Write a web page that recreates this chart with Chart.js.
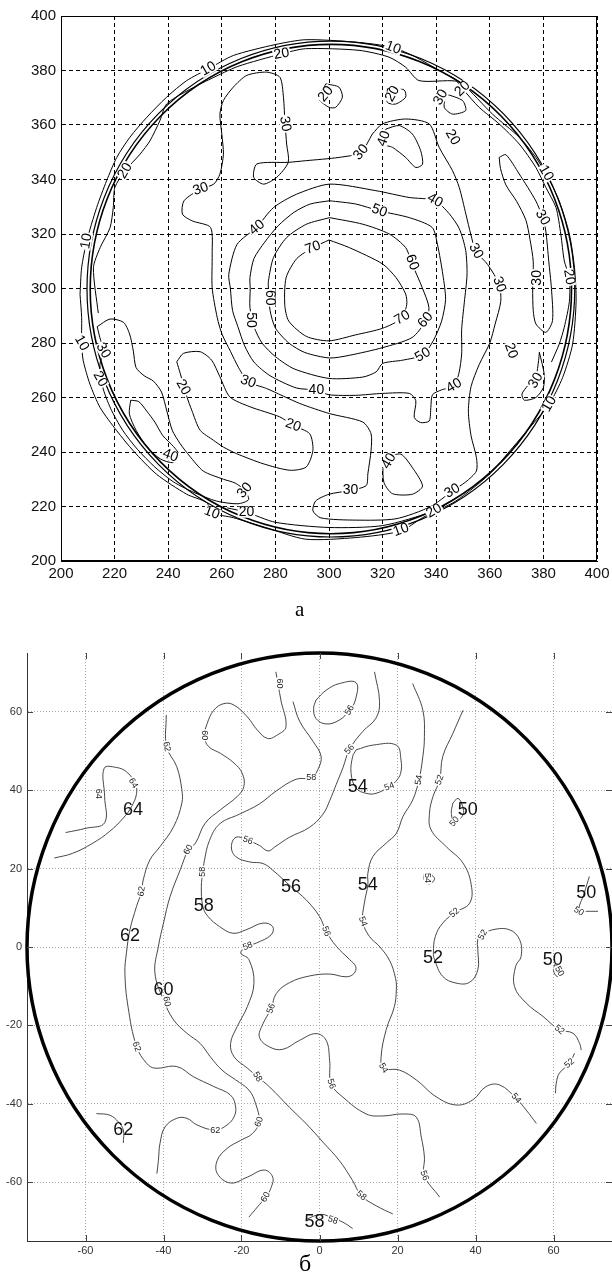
<!DOCTYPE html>
<html><head><meta charset="utf-8">
<script src="https://cdn.jsdelivr.net/npm/chart.js@4.4.1/dist/chart.umd.min.js"></script>
<style>
body{margin:0;background:#fff;width:612px;height:1278px;position:relative;overflow:hidden}
canvas{position:absolute;left:0}
#c1{top:0}
#c2{top:620px}
.cap{position:absolute;font-family:"Liberation Serif","DejaVu Serif",serif;color:#000}
</style></head><body>
<canvas id="c1" width="612" height="600"></canvas>
<canvas id="c2" width="612" height="640"></canvas>
<div class="cap" style="left:295px;top:597px;font-size:21px">а</div>
<div class="cap" style="left:299px;top:1250px;font-size:24px">б</div>
<script>
// ---------- panel а ----------
const topTicks = [200, 220, 240, 260, 280, 300, 320, 340, 360, 380, 400];
const topCircle = [300.7, 299.8, 89.8, 91.0]; // cx, cy, inner r, outer r

const top70 = [[300,317.8],[307.6,315],[320,309],[325,304],[328.6,298],[329,294],[327,289],[320,285.4],[310,283],[300,280.8],[291.6,282.4],[285,288],[283.5,294],[284,304],[288,311],[294,315],[300,317.8]];
const top60 = [[300.2,326],[312.6,323.6],[322.5,320],[328.6,315],[331,309],[334.8,300.3],[337.3,293],[336,288],[331,282],[320,278.3],[307.7,275.5],[300.2,274.5],[291,276.5],[285,280],[280,285.5],[278,292],[277.4,300],[277.4,302.8],[279.3,311.4],[284.2,318.7],[291.6,323.6],[300.2,326]];
const top50 = [[300.2,332.2],[310,331],[318.8,328.5],[330,326],[338.5,322.4],[340.5,316],[342.5,305],[343.5,296],[342,288],[339,281],[335,275.6],[327.5,273.7],[320,272.5],[317.6,269.4],[312.6,267.5],[300,267],[287,270.5],[280,275],[275,280],[272,286],[270.5,293],[270.6,300],[270.5,304],[272,311],[276,317],[281,323],[287,328],[293,331],[300.2,332.2]];
const top40 = [[273.1,322.4],[279.3,329.7],[287.9,334.6],[300.2,338.3],[317.5,335.9],[329.9,333.4],[339.5,332.3],[344.8,327.5],[348.6,322],[351,314],[351.5,305],[350.5,295],[349.5,285],[349.5,276],[348.5,269],[346.7,264.3],[342,262.8],[338.6,261],[338,256.3],[337.4,251.4],[334.2,250.8],[331.8,252.7],[332.4,258.8],[330,261.5],[320,261.5],[310,260.8],[300,261],[295.3,262.7],[287.8,263.5],[278,268],[272,273],[268.5,279],[266,286],[264,292],[263.2,300],[262.6,305.2],[265.7,316.2],[273.1,322.4]];
const top30 = [[316.2,356.7],[319.9,360.4],[328.6,362.2],[337.4,360.4],[341.1,351.8],[346.1,343.2],[348.6,337.1],[351.1,327.2],[352.9,319.9],[354.8,313.7],[359.2,308.8],[363.5,301.5],[364.1,295.3],[362,287],[360,280],[356,272],[353,264],[352,255],[353,246],[355,238],[355,233],[351,229],[346,225.7],[338,220],[325,215.5],[310,215],[297,215.8],[294,218.4],[295,222],[300,224.5],[308,225.9],[313.9,227.7],[314.5,232],[315.7,240.6],[315.7,246.7],[312.6,251],[300.2,254.1],[289.1,257.8],[276.7,263.3],[269.8,265.8],[266.3,270.9],[263.2,277],[260.1,283.2],[258.3,289.3],[256.4,300.3],[256.4,312.6],[255.8,322.4],[249,324.8],[245.3,327.3],[245.9,332.2],[252.1,336.5],[257,338.3],[259.3,342],[260.6,349.3],[260,356.7],[259.3,364],[260.6,369],[264.3,373.9],[269.3,378.2],[276.7,379.4],[281.7,377.5],[283,370.2],[283.6,360.4],[284.2,353],[284.8,346.3],[280.5,340.8],[275.6,338.3],[271.9,340.8],[273.1,345.7],[284.8,346.3],[291.3,346.9],[303.7,348.1],[311.8,349.9],[316.2,356.7]];
const top40b = [[321.2,358.5],[326.2,359.8],[331.1,356.7],[334.2,350.6],[334.9,345.6],[332.4,344.4],[328.6,348.1],[323.7,351.8],[320.5,353],[321.2,358.5]];
const top40c = [[321.2,238],[326.8,239.2],[331.1,234.3],[334.9,227.5],[331.1,224.5],[323.7,224.7],[320.5,228.8],[320.2,235.5],[321.2,238]];
const top40d = [[226,259],[229,258.5],[232,255],[235,251],[238,246],[242,242],[244,239],[241.9,236.1],[237,237.5],[232,242],[228,248],[225.5,254],[226,259]];
const top30L = [[213.5,286],[218.3,288.8],[223.3,287.6],[225.6,283.3],[227,277],[228,271],[231,268],[234.5,266],[237.5,262],[239.5,255],[241.5,248],[244.5,243],[248,238.5],[253.1,233],[260.6,230],[265,228.6],[268.6,225.9],[270,222.5],[266,221],[258,222],[250,225],[242,229],[235,234.5],[228.5,241],[223,248],[218.5,256],[215.5,264],[214.5,272],[215.8,277.2],[214.5,282],[213.5,286]];
const top30R = [[363.5,348.1],[366,349.1],[371,342],[377.2,332.1],[379.7,326],[380.9,321.1],[382,310],[383,300],[383.4,288.2],[380.9,283.9],[377.2,287],[376.2,292],[376,300],[376.2,310],[375,318],[373.5,325],[370,332],[366,338],[364,344],[363.5,348.1]];
const top30s = [[378.5,276.6],[380.3,268.6],[380,263.7],[377.2,260],[372.9,259],[372,261.3],[374.1,264.3],[377.2,268],[378.2,273.5],[378.5,276.6]];
const top30t = [[343.6,371.4],[349.8,369],[351,365.3],[346.1,364],[343,366.5],[343.6,371.4]];
const top20a = [[298.8,375.1],[303.7,373.9],[305,370.2],[302.5,366.5],[300,366.5],[296.3,369.6],[298.8,375.1]];
const top20b = [[321.8,373.3],[328,372.9],[328.6,370.2],[324.9,367.7],[321.8,368.3],[321.8,373.3]];
const top20c = [[243.2,273.1],[245.7,276.2],[251.9,276.8],[256.2,273.7],[259.3,267.6],[263,260.2],[270.5,256.6],[281.6,252.9],[286.6,249.8],[292.8,246.7],[294,240.6],[291.5,234.5],[285.4,233.3],[275.4,235.7],[265.5,239.4],[260.6,241.8],[256.9,244.3],[251.9,248],[248.8,255.3],[247,260.2],[244.5,268.8],[243.2,273.1]];
const top20rim = [[213.9,291],[212.1,307.6],[214.6,315],[218.3,322.3],[219.5,329.7],[220.1,337.1],[223.9,343.2],[229.5,349.3],[233.2,354.2],[236.9,361.6],[239.4,367.7],[247,372.5],[256,377],[266,381.5],[282.3,386.1],[291.3,388],[311.2,387.4],[322.4,384.9],[328.6,381.2],[333.6,376.3],[347.3,376.1],[349.8,373.3],[356,366.5],[363.5,360.4],[371,353],[377.2,344.4],[380.9,337.1],[384.7,329.7],[386.5,319.9],[387.8,310.1],[389.7,303.9],[389.7,295.3],[387.8,285.8],[385.9,279.6],[383,273]];
const top20bot = [[262,219.5],[269.2,217.9],[280,214.2],[300,212.3],[320,213],[339.2,218.4],[348,223.5]];
const top10 = [[207.1,297.8],[207.7,307.6],[209.6,317.4],[213.3,329.7],[217,339.5],[220.8,348.1],[225.7,355.5],[232,362.8],[239.4,370.2],[246.9,376.3],[255,380.6],[264.3,385.5],[279.9,389.5],[291.3,391.3],[310,390.4],[323.7,388.5],[332.4,384.9],[341.1,380],[349.8,375.1],[361,364],[371,355.5],[377.2,348.1],[381,342],[385.9,332.1],[389.7,319.9],[391.6,307.6],[392.2,295.3],[390.9,279.6],[387.2,267.4],[382.2,257.6],[376,250.2],[368.5,241.6],[359.8,231.8],[347.3,222],[334.9,215.9],[326.8,211],[310,208.6],[291.3,208],[276.7,212.2],[264.3,215.9],[256.2,217.7],[254.4,221.4],[246.9,224.5],[235.7,231.8],[227,240.4],[220.8,247.8],[214.6,256.3],[210.8,264.9],[208.3,273.5],[207.7,279.6],[207.7,289.4],[207.1,297.8]];

// [text, x, y, angle]
const topLabels = [
  ["70",294,315,20],["70",327.4,289.3,30],
  ["60",278,296.6,-90],["60",331,309.6,-70],["60",336,288.4,50],
  ["50",318.8,328.5,-20],["50",335,275.6,30],["50",271,288.4,-90],
  ["40",273.1,322.4,40],["40",339.5,332.3,-30],["40",295.3,262.7,0],["40",346.7,264.3,30],["40",320.5,355,70],["40",240.8,238.7,-20],["40",322.4,236.7,60],
  ["30",283.6,360.4,-80],["30",252.1,336.5,20],["30",312,350,50],["30",341.7,370.2,60],["30",354.8,313.7,-60],["30",363.5,301.5,-70],["30",379.7,326,-60],["30",377.8,303.9,90],["30",377.2,266.2,60],["30",346,225.7,30],["30",308,225.9,0],["30",269.8,265.8,-20],["30",268.6,225.9,50],["30",215.8,277.2,-60],
  ["20",282.3,386.1,10],["20",223.9,343.2,60],["20",298.8,371.4,50],["20",323.7,371.4,60],["20",346.1,355.5,-60],["20",349.8,373.3,45],["20",389.6,304.2,-80],["20",367.9,277.2,-70],["20",245.6,263.7,-60],["20",286.6,249.8,-20],["20",269.2,217.9,0],["20",339.2,218.4,30],["20",214.6,266.8,-60],
  ["10",255,380.6,30],["10",209.5,317.4,80],["10",207.7,280,-60],["10",256.3,217.7,-20],["10",323.9,388.3,-20],["10",381,342.4,-60],["10",382.2,257.6,60],["10",326.9,211.4,20]
];

// ---------- panel б ----------
const botTicks = [-60, -40, -20, 0, 20, 40, 60];
const botCircle = [0, 0, 75];

const b64 = [[-65.1,29.2],[-59.8,30.3],[-55.1,31.7],[-55.1,38.4],[-55.2,45.6],[-52.1,45.8],[-49.5,44.7],[-47.3,41.8],[-46.9,39.2],[-48.2,35.8],[-50.3,32.9],[-53.8,29.5],[-58.1,26.5],[-63.3,23.9],[-68,22.7]];
const b62 = [[-39.3,59.2],[-39.2,51.1],[-36.6,46],[-35.3,40.1],[-35.3,36.7],[-37.4,30.7],[-40.9,25.6],[-43.5,22.2],[-45.2,17.1],[-45.6,14.2],[-46.9,10.4],[-48.6,4.4],[-49.5,-1.5],[-49.9,-6.6],[-49.1,-15.2],[-46.9,-25.4],[-44.3,-29.7],[-42.2,-30.9],[-36.6,-30.5],[-32.3,-33.1],[-27.1,-35.6],[-22.8,-37.8],[-21.5,-40.8],[-21.9,-43.3],[-23.7,-45.4],[-26.7,-46.7],[-31.4,-45.4],[-34,-43.7],[-36.6,-43.7],[-39.6,-45.9],[-40.9,-50.1],[-41.3,-54.4],[-41.7,-57.8]];
const b62b = [[-57.2,-42.5],[-53.8,-42.9],[-51.6,-44.6],[-50.3,-46.7],[-50.3,-50]];
const b60 = [[-11.2,70.2],[-9.9,63],[-8.6,56.2],[-10.8,54.1],[-13.3,53.2],[-15.9,55.3],[-18.5,58.7],[-21.9,61.7],[-24.5,62.1],[-27.1,60.4],[-28.8,57],[-29.5,53.6],[-28.4,51.1],[-25.4,49.4],[-21.9,46.9],[-19.8,44.3],[-19.4,40.9],[-21.1,38.4],[-25.4,35],[-29.3,31.6],[-31.8,26.5],[-33.6,24.8],[-35.7,19.7],[-38.3,12.9],[-40,6.1],[-41.3,0.2],[-42.2,-6.6],[-40,-13.5],[-37.4,-18.6],[-34,-22],[-30.6,-24.6],[-28,-28],[-25,-31.4],[-21.5,-33.9],[-18.1,-36.5],[-16.4,-39.9],[-15.5,-44.6],[-17.2,-47.6],[-20.2,-49.3],[-23.7,-51.4],[-26.2,-54.4],[-26.2,-57.8],[-22.8,-60.2],[-18.5,-58.7],[-14.2,-56.9],[-12,-58.7],[-12.5,-61.6],[-13.8,-63.8],[-15.9,-66.3],[-18.1,-68.9]];
const b58 = [[-6.8,62.6],[-5.1,57.6],[-1.7,52.5],[0.4,48.7],[-0.4,45.3],[-2.1,43.2],[-6,42.8],[-11.1,39.8],[-15.4,36.5],[-20.5,33.9],[-25.6,31.4],[-28.2,27.2],[-29.5,22.1],[-29.9,19.2],[-30.3,15.4],[-29.9,10.3],[-28.6,7.8],[-25.6,5.2],[-22.2,3.5],[-18.8,4.4],[-14.5,6.1],[-12,5.2],[-12.4,3.1],[-16.2,1],[-18.4,0.2],[-20.2,-1.5],[-18.1,-3.2],[-16.8,-9.2],[-18.5,-15.2],[-21.1,-20.3],[-22.8,-24.6],[-21.9,-28],[-18.5,-30.9],[-15.9,-33.1],[-12.8,-35.7],[-7.7,-40.9],[-3.4,-45.1],[0.9,-49.8],[5.1,-54.5],[8.5,-59.6],[10.7,-63.4],[14.5,-66],[18.8,-68.1]];
const b58b = [[-3.5,-69.5],[0.4,-68.2],[3.4,-69.2],[6,-70.2],[8.5,-71.8]];
const b56a = [[-0.9,63],[1.7,65.5],[5.1,67.2],[9.4,67.4],[9.2,63],[7.7,60.4],[5.1,57.9],[1.7,56.9],[-0.9,58.3],[-1.5,60.9],[-0.9,63]];
const b56 = [[14.1,70.2],[15.4,62.6],[14.5,58.4],[11.1,55],[7.7,50.4],[6,45.7],[4.3,41.5],[2.6,37.3],[0.9,33.9],[-2.6,30.5],[-7.7,28],[-11.5,25.5],[-13.2,24.5],[-15.4,25.9],[-18.4,27.2],[-21.4,28],[-22.6,25.5],[-21.4,23],[-17.9,21.7],[-14.5,21.3],[-12,19.6],[-7.3,15.4],[-3.4,12],[0,7.8],[1.7,4],[4.3,0.2],[7.7,-3.2],[9.3,-5],[8.8,-6.8],[6.8,-7.6],[2.6,-6.9],[-2.6,-7.4],[-7.7,-9.1],[-11.1,-11.9],[-12.4,-15.7],[-14.5,-19.6],[-15.4,-23],[-12.8,-25.5],[-9.4,-26.1],[-5.1,-23.8],[-0.9,-22.1],[1.7,-23.8],[2.6,-28.9],[3,-34.9],[6,-38.3],[12,-42.6],[16.2,-43.1],[21.4,-42.6],[24.8,-43.4],[26.1,-48.5],[26.9,-53.6],[26.9,-58.3],[30.8,-63.8]];
const b54a = [[9.4,50.3],[13.7,51.5],[19.7,51.5],[20.9,47.7],[20.8,44.3],[19.5,42.2],[17.9,40.9],[14.5,39.2],[12,39.2],[9.4,40.5],[8.1,44.3],[8.5,48.6],[9.4,50.3]];
const b54 = [[23.9,67.2],[26.5,60.4],[26.9,53.7],[26.5,48.6],[25.5,42.6],[23.9,37.5],[21.4,33.3],[19.7,29],[17.1,26.5],[13.7,23.1],[12.4,18.8],[12.4,15.9],[11.5,11.2],[11.1,6.5],[12.8,2.7],[15.5,0],[18,-3.5],[19.5,-8],[19.7,-10.9],[19.2,-15.2],[17.1,-21.1],[15.8,-28],[16.4,-30.9],[20.5,-31.4],[24.8,-33.9],[29.9,-38.2],[35,-40.3],[39.3,-39],[42.7,-35.6],[46.2,-35.2],[50.4,-38.6],[53,-41.6],[55.6,-45]];
const b54s = [[26.9,18.8],[28.9,18.2],[29.5,17.3],[28.2,16.1],[26.9,17],[26.9,18.8]];
const b52 = [[36.8,60.4],[34.2,54.5],[31.6,48.6],[30.8,42.6],[29.1,38.4],[28.2,34.1],[28.6,29.9],[32.5,25.6],[36.8,21.4],[38.9,15.9],[38.5,11.2],[34.6,8.7],[31.6,6.1],[29.7,2.7],[29.2,-1.5],[29.5,-3.2],[31.6,-7.5],[35,-9.2],[38.5,-9],[40.6,-5.8],[40.6,-0.7],[40.6,1.9],[41.9,3.1],[44.4,4.4],[48.7,4.4],[51.3,1.9],[51.7,-2.4],[50.3,-4.9],[50,-10.1],[53,-14.3],[57.3,-17.7],[61.5,-21.1],[65,-22],[66.7,-24.6],[67.1,-26.3]];
const b52b = [[65.4,-27.1],[64.1,-29.7],[61.5,-32.2],[60.7,-34.8],[60.5,-37.3]];
const b50a = [[34.2,36.7],[35.5,37.9],[36.6,36.2],[36.8,33.7],[34.6,32],[33.8,34.1],[34.2,36.7]];
const b50b = [[69.2,18],[67.9,13.8],[66.5,9.1],[68.8,9.1],[71.4,9.1]];
const b50c = [[60.3,-4.5],[62,-5.4],[62.4,-7.1],[60.9,-7.5],[60,-6],[60.3,-4.5]];

const botSmall = [
  ["64",-56.6,39.1,-90],["64",-47.8,41.8,-60],["62",-39.2,51.1,-80],["62",-45.6,14.2,80],["60",-29.5,54,-90],["60",-10.3,67.2,-90],
  ["60",-33.6,24.8,60],["60",-39.2,-13.9,-80],["62",-46.9,-25.4,-70],["62",-26.7,-46.7,0],["60",-15.5,-44.6,70],["60",-13.8,-63.8,60],
  ["58",-29.9,19.2,90],["58",-2.1,43.2,0],["58",-18.4,0.2,20],["58",-15.9,-33.1,-60],["58",10.7,-63.4,-40],["58",3.4,-69.7,-20],
  ["56",7.7,60.4,60],["56",7.7,50.4,50],["56",-18.4,27.2,-20],["56",1.7,4,-70],["56",-12.4,-15.7,70],["56",3,-34.9,-70],["56",26.9,-58.3,-70],
  ["54",17.9,40.9,20],["54",25.5,42.6,80],["54",11.1,6.5,-70],["54",16.4,-30.9,-60],["54",50.4,-38.6,-50],["54",27.8,17.6,-90],
  ["52",30.8,42.6,70],["52",34.6,8.7,40],["52",41.9,3.1,60],["52",61.5,-21.1,-40],["52",64.1,-29.7,40],
  ["50",34.6,32,50],["50",66.5,9.1,-30],["50",61.5,-6.2,-60]
];
const botBig = [
  ["64",-47.8,35],["62",-48.6,2.7],["60",-40,-10.9],["58",-29.7,10.4],["56",-7.3,15.4],["54",9.8,40.9],["54",12.4,15.9],
  ["50",38,35],["50",68.4,13.8],["52",29.1,-2.8],["50",59.8,-3.2],["62",-50.3,-46.7],["58",-1.3,-70.2]
];

// ---------- helpers ----------
function line(pts, w, c, t) {
  return { data: pts.map(([x, y]) => ({ x, y })), showLine: true, pointRadius: 0, borderWidth: w, borderColor: c, tension: t, fill: false };
}

const labelPlugin = {
  id: "clabels",
  afterDatasetsDraw(chart, args, opts) {
    const { ctx, scales: { x, y } } = chart;
    opts.sets.forEach(set => {
      ctx.save();
      ctx.font = set.font;
      ctx.textAlign = "center";
      ctx.textBaseline = "middle";
      set.items.forEach(([t, vx, vy, rot]) => {
        const px = x.getPixelForValue(vx), py = y.getPixelForValue(vy);
        ctx.save();
        ctx.translate(px, py);
        ctx.rotate(-(rot || 0) * Math.PI / 180);
        if (set.bg) {
          const w = ctx.measureText(t).width;
          ctx.fillStyle = "#fff";
          ctx.fillRect(-w / 2 - 1, -set.h / 2, w + 2, set.h);
        }
        ctx.fillStyle = set.color;
        ctx.fillText(t, 0, 0);
        ctx.restore();
      });
      ctx.restore();
    });
  }
};

const circlePlugin = {
  id: "circles",
  afterDatasetsDraw(chart, args, opts) {
    const { ctx, scales: { x, y } } = chart;
    ctx.save();
    opts.rings.forEach(r => {
      const cx = x.getPixelForValue(r.cx), cy = y.getPixelForValue(r.cy);
      const rx = x.getPixelForValue(r.cx + r.r) - cx, ry = cy - y.getPixelForValue(r.cy + r.r);
      ctx.beginPath();
      ctx.ellipse(cx, cy, rx, ry, 0, 0, Math.PI * 2);
      ctx.lineWidth = r.w;
      ctx.strokeStyle = r.c;
      ctx.stroke();
    });
    ctx.restore();
  }
};

const axisPlugin = {
  id: "axistext",
  afterDraw(chart, args, o) {
    const { ctx, chartArea: a, scales: { x, y } } = chart;
    ctx.save();
    if (o.box) { ctx.strokeStyle = "#000"; ctx.lineWidth = 1; ctx.strokeRect(a.left + 0.5, a.top + 0.5, a.right - a.left - 1, a.bottom - a.top - 1); }
    if (o.tick) {
      ctx.strokeStyle = o.tickColor; ctx.lineWidth = 1;
      ctx.beginPath();
      x.ticks.forEach(t => {
        const px = Math.round(x.getPixelForValue(t.value)) + 0.5;
        ctx.moveTo(px, a.bottom); ctx.lineTo(px, a.bottom - o.tick);
        ctx.moveTo(px, a.top); ctx.lineTo(px, a.top + o.tick);
      });
      y.ticks.forEach(t => {
        const py = Math.round(y.getPixelForValue(t.value)) + 0.5;
        ctx.moveTo(a.left, py); ctx.lineTo(a.left + o.tick, py);
        ctx.moveTo(a.right, py); ctx.lineTo(a.right - o.tick, py);
      });
      ctx.stroke();
    }
    ctx.fillStyle = o.color;
    ctx.font = o.font;
    ctx.textBaseline = "middle";
    ctx.textAlign = "center";
    x.ticks.forEach(t => ctx.fillText(String(t.value), x.getPixelForValue(t.value), a.bottom + o.xOff));
    ctx.textAlign = "right";
    y.ticks.forEach(t => ctx.fillText(String(t.value), a.left - o.yOff, y.getPixelForValue(t.value)));
    ctx.restore();
  }
};

function scale(min, max, ticks, size, dash, gridColor, axisColor) {
  return {
    type: "linear", min, max,
    afterBuildTicks: s => { s.ticks = ticks.map(v => ({ value: v })); },
    afterFit: s => { if (s.isHorizontal()) s.height = size; else s.width = size; },
    ticks: { display: false },
    grid: { color: gridColor, lineWidth: 1, drawTicks: false },
    border: { display: true, color: axisColor, width: 1, dash }
  };
}

// ---------- chart а ----------
const topSets = [top10, top20rim, top20bot, top20a, top20b, top20c, top30, top30L, top30R, top30s, top30t, top40, top40b, top40c, top40d, top50, top60, top70];
new Chart(document.getElementById("c1"), {
  type: "scatter",
  data: { datasets: topSets.map(p => line(p, 1, "#000", 0.25)) },
  options: {
    responsive: false, animation: false,
    layout: { padding: { top: 16, right: 15, left: 0, bottom: 0 } },
    plugins: {
      legend: { display: false }, tooltip: { enabled: false },
      circles: { rings: [
        { cx: topCircle[0], cy: topCircle[1], r: topCircle[2], w: 1.6, c: "#000" },
        { cx: topCircle[0], cy: topCircle[1], r: topCircle[3], w: 1.2, c: "#000" }
      ] },
      clabels: { sets: [{ items: topLabels, font: "14px 'Liberation Sans', Arial, sans-serif", color: "#000", bg: true, h: 11 }] },
      axistext: { box: true, tick: 0, font: "15px 'Liberation Sans', Arial, sans-serif", color: "#111", xOff: 13, yOff: 5 }
    },
    scales: {
      x: scale(200, 400, topTicks, 39, [4, 3], "#000", "#000"),
      y: scale(200, 400, topTicks, 61, [4, 3], "#000", "#000")
    }
  },
  plugins: [circlePlugin, labelPlugin, axisPlugin]
});

// ---------- chart б ----------
const botSets = [b64, b62, b62b, b60, b58, b58b, b56a, b56, b54a, b54, b54s, b52, b52b, b50a, b50b, b50c];
new Chart(document.getElementById("c2"), {
  type: "scatter",
  data: { datasets: botSets.map(p => line(p, 0.9, "#333", 0.4)) },
  options: {
    responsive: false, animation: false,
    layout: { padding: { top: 33, right: 0, left: 0, bottom: 0 } },
    plugins: {
      legend: { display: false }, tooltip: { enabled: false },
      circles: { rings: [{ cx: botCircle[0], cy: botCircle[1], r: botCircle[2], w: 3.5, c: "#000" }] },
      clabels: { sets: [
        { items: botSmall, font: "9px 'Liberation Sans', Arial, sans-serif", color: "#222", bg: true, h: 8 },
        { items: botBig, font: "18px 'Liberation Sans', Arial, sans-serif", color: "#111", bg: false }
      ] },
      axistext: { box: false, tick: 6, tickColor: "#444", font: "11px 'Liberation Sans', Arial, sans-serif", color: "#333", xOff: 10, yOff: 5 }
    },
    scales: {
      x: scale(-75, 75, botTicks, 19, [1, 2], "#aaa", "#333"),
      y: scale(-75, 75, botTicks, 27, [1, 2], "#aaa", "#333")
    }
  },
  plugins: [circlePlugin, labelPlugin, axisPlugin]
});
</script>
</body></html>
